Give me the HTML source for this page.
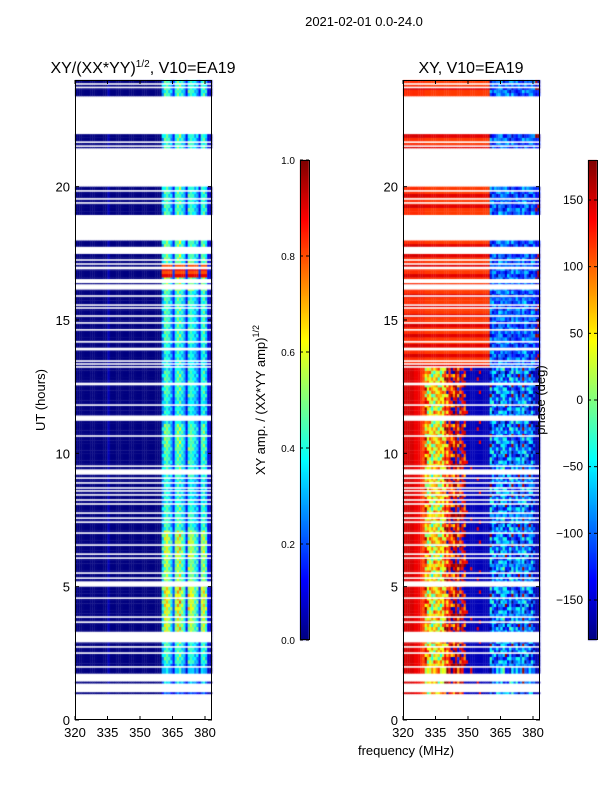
<!DOCTYPE html>
<html><head><meta charset="utf-8"><style>
body{margin:0;background:#fff;width:600px;height:800px;overflow:hidden;position:relative;font-family:"Liberation Sans",sans-serif}
canvas,svg{position:absolute;left:0;top:0}
</style></head><body>
<canvas id="hm" width="600" height="800"></canvas>
<svg id="ov" width="600" height="800" font-family="Liberation Sans, sans-serif"></svg>
<script>
// ---- data ----
const hourMin = 0, hourMax = 24, rowStep = 0.125;
const freqStart = 320, freqEnd = 384; // 1 MHz channels
const dataIntervals = [[1.75,17.98],[18.95,20.0],[21.45,21.97],[23.4,24.0],[0.98,1.04],[1.38,1.44]];
const gapHours = [[17.62,0.25],[17.51,0.06],[17.25,0.06],[17.1,0.06],[16.95,0.1],[16.46,0.15],[16.24,0.2],[15.9,0.06],[15.56,0.06],[15.45,0.06],[15.15,0.06],[14.89,0.06],[14.63,0.06],[14.18,0.06],[13.91,0.1],[13.46,0.06],[13.35,0.06],[13.24,0.06],[12.6,0.1],[11.81,0.06],[11.32,0.2],[10.65,0.06],[9.52,0.06],[9.3,0.2],[9.07,0.06],[8.89,0.06],[8.7,0.06],[8.59,0.06],[8.44,0.06],[8.25,0.06],[8.1,0.06],[7.76,0.06],[7.57,0.06],[7.42,0.06],[7.01,0.06],[6.56,0.06],[6.22,0.06],[6.07,0.06],[5.51,0.06],[5.32,0.06],[5.1,0.2],[4.57,0.06],[3.86,0.06],[3.67,0.06],[3.11,0.4],[2.74,0.06],[2.51,0.06],[1.99,0.06],[23.85,0.06],[23.72,0.06],[21.67,0.06],[21.52,0.06],[19.84,0.06],[19.54,0.06],[19.39,0.06]];
const bandStart = 360;
const ampBand = [0.3,0.4,0.45,0.4,0.3,0.15,0.4,0.5,0.45,0.35,0.3,0.12,0.4,0.45,0.4,0.35,0.3,0.12,0.4,0.45,0.35,0.1,0.05,0.03]; // 360..383 MHz
const ampBase = 0.0;
const ampHourMod = [0.5,0.8,1.0,1.3,1.4,1.2,1.3,1.0,0.9,1.0,1.1,0.9,1.0,0.9,1.0,1.0,1.2,1.1,1,1,1,1,1,1];
const rowWobble = [1,0.8,1.1,0.9,1.25,0.85,1.05,0.95];
const hotHours = [[16.55,17.0]];
const hotAmp = 0.9;
const phaseLowProfile = [150,150,150,150,150,140,140,140,120,100,80,40,40,30,30,20,30,40,40,90,110,120,140,140,150,150,150,150,150,-160,-160,-160,-160,-160,-160,-160,-160,-160,-160,-160,-110,-110,-110,-100,-120,-110,-90,-110,-120,-100,-110,-120,-90,-110,-100,-120,-110,-100,-110,-120,-165,-165,-165,-165];
const phaseHighProfile = [120,120,120,120,120,120,120,120,120,120,115,115,115,115,115,115,115,115,115,115,115,115,115,115,115,115,115,115,115,115,115,115,115,115,115,115,115,115,115,115,-120,-110,-110,-120,-100,-110,-120,-110,-100,-120,-110,-120,-100,-110,-120,-110,-100,-110,-120,-110,-120,-160,-160,-160];
const phaseRegimeHour = 13.2;
const phaseRowShift = [0,50,-40,70,-60,30,-20,90,-80,20,60,-50,10,-70,40];
const ampTicks = [0.0,0.2,0.4,0.6,0.8,1.0];
const phaseTicks = [-150,-100,-50,0,50,100,150];
const xTicks = [320,335,350,365,380];
const yTicks = [0,5,10,15,20];

// ---- geometry ----
const panels = [{x0:75,x1:212},{x0:403,x1:540}];
const yTop = 80, yBot = 720;
const fMax = 320 + (212-75)/2.1667;
function yOf(h){return yBot - (h-hourMin)/(hourMax-hourMin)*(yBot-yTop);}
function xOf(p,f){return panels[p].x0 + (f-freqStart)/(fMax-freqStart)*(panels[p].x1-panels[p].x0);}
function jet(v){v=Math.max(0,Math.min(1,v));const c=t=>Math.round(255*Math.max(0,Math.min(1,1.5-Math.abs(t))));return `rgb(${c(4*v-3)},${c(4*v-2)},${c(4*v-1)})`;}
function wrap(p){while(p>180)p-=360;while(p<-180)p+=360;return p;}

const ctx = document.getElementById('hm').getContext('2d');
for(const [a,b] of dataIntervals){
  const n = Math.max(1,Math.round((b-a)/rowStep));
  const dh=(b-a)/n;
  for(let r=0;r<n;r++){
    const h=a+r*dh, ri=Math.floor(h/rowStep);
    const yA=yOf(h+dh), yB=yOf(h);
    for(let c=0;c<freqEnd-freqStart;c++){
      const f=freqStart+c;
      if(f>fMax) break;
      let v=ampBase;
      if(f>=bandStart){
        v=ampBand[f-bandStart]*ampHourMod[Math.floor(h)]*rowWobble[(ri*ri+3*c)%rowWobble.length];
        if(hotHours.some(([s,e])=>h>=s&&h<e) && ampBand[f-bandStart]>0.2) v=hotAmp-(ri%2)*0.1;
      }
      if(f===335) v+=0.06;
      ctx.fillStyle=jet(v);
      const xa=xOf(0,f), xb=Math.min(xOf(0,f+1),panels[0].x1);
      ctx.fillRect(xa,yA,xb-xa+0.3,yB-yA+0.3);
      const prof = h>=phaseRegimeHour?phaseHighProfile:phaseLowProfile;
      let p=prof[c];
      const shift=phaseRowShift[(ri*ri*3+c*c*5+ri*c)%phaseRowShift.length];
      if(h<phaseRegimeHour && ((f>=329&&f<349)||(f>=360&&f<381))) p+=shift;
      if(h<phaseRegimeHour && f>=349&&f<360 && shift>80) p=140;
      if(h>=phaseRegimeHour && f>=bandStart) p+=shift*0.6;
      if(h>=phaseRegimeHour && f<bandStart) p+= (ri%3===0? 30:0);
      ctx.fillStyle=jet((wrap(p)+180)/360);
      const xa2=xOf(1,f), xb2=Math.min(xOf(1,f+1),panels[1].x1);
      ctx.fillRect(xa2,yA,xb2-xa2+0.3,yB-yA+0.3);
    }
  }
}
ctx.fillStyle='#fff';
for(const [h,w] of gapHours){
  for(const p of [0,1]){ctx.fillRect(panels[p].x0,yOf(h+w/2),panels[p].x1-panels[p].x0,Math.max(1.5,yOf(h-w/2)-yOf(h+w/2)));}
}
const cbs=[{x:300,min:0,max:1},{x:588,min:-180,max:180}];
for(let y=160;y<640;y++){const v=1-(y-160)/480;for(const cb of cbs){ctx.fillStyle=jet(v);ctx.fillRect(cb.x,y,9,1.2);}}

// ---- overlay ----
const svg=document.getElementById('ov');
const NS='http://www.w3.org/2000/svg';
function el(tag,attrs,parent,text){const e=document.createElementNS(NS,tag);for(const k in attrs)e.setAttribute(k,attrs[k]);if(text!==undefined)e.textContent=text;(parent||svg).appendChild(e);return e;}
for(const p of [0,1]){
  const g=el('g',{});
  
  
  el('rect',{x:panels[p].x0+0.5,y:yTop+0.5,width:panels[p].x1-panels[p].x0-1,height:yBot-yTop-1,fill:'none',stroke:'#000','stroke-width':1},g);
  for(const t of xTicks){const x=xOf(p,t);
    el('line',{x1:x,x2:x,y1:yBot,y2:yBot-4,stroke:'#000'},g);el('line',{x1:x,x2:x,y1:yTop,y2:yTop+4,stroke:'#000'},g);
    const lb=el('text',{x:x,y:yBot+17,'font-size':13,'text-anchor':'middle'},g,String(t));
    }
  for(const t of yTicks){const y=yOf(t);
    el('line',{x1:panels[p].x0,x2:panels[p].x0+4,y1:y,y2:y,stroke:'#000'},g);el('line',{x1:panels[p].x1,x2:panels[p].x1-4,y1:y,y2:y,stroke:'#000'},g);
    const lb=el('text',{x:panels[p].x0-5,y:y+5,'font-size':13,'text-anchor':'end'},g,String(t));
    }
}
cbs.forEach((cb,i)=>{
  const g=el('g',{});
  
  
  el('rect',{x:cb.x+0.5,y:160.5,width:9,height:479,fill:'none',stroke:'#000'},g);
  const ticks=i?phaseTicks:ampTicks;
  for(const t of ticks){const y=640-(t-cb.min)/(cb.max-cb.min)*480;
    el('line',{x1:cb.x,x2:cb.x+3,y1:y,y2:y,stroke:'#000'},g);el('line',{x1:cb.x+9,x2:cb.x+6,y1:y,y2:y,stroke:'#000'},g);
    const s=i?String(t).replace('-','\u2212'):t.toFixed(1);
    el('text',{x:cb.x-5,y:y+4,'font-size':i?12:10,'text-anchor':'end'},g,s);}
});
function txt(name,attrs,content){const t=el('text',attrs,svg);t.innerHTML=content;return t;}
txt('figure-title',{x:364,y:26,'font-size':13,'text-anchor':'middle'},'2021-02-01 0.0-24.0');
txt('amplitude-panel-title',{x:143,y:73,'font-size':16,'text-anchor':'middle'},'XY/(XX*YY)<tspan font-size="10" dy="-6">1/2</tspan><tspan dy="6">, V10=EA19</tspan>');
txt('phase-panel-title',{x:471,y:73,'font-size':16,'text-anchor':'middle'},'XY, V10=EA19');
txt('y-axis-title',{x:45,y:400,'font-size':13,'text-anchor':'middle',transform:'rotate(-90 45 400)'},'UT (hours)');
txt('x-axis-title',{x:406,y:755,'font-size':13,'text-anchor':'middle'},'frequency (MHz)');
txt('amplitude-colorbar-title',{x:265,y:400,'font-size':13,'text-anchor':'middle',transform:'rotate(-90 265 400)'},'XY amp. / (XX*YY amp)<tspan font-size="9" dy="-6">1/2</tspan>');
txt('phase-colorbar-title',{x:545,y:400,'font-size':13,'text-anchor':'middle',transform:'rotate(-90 545 400)'},'phase (deg)');
</script>
</body></html>
